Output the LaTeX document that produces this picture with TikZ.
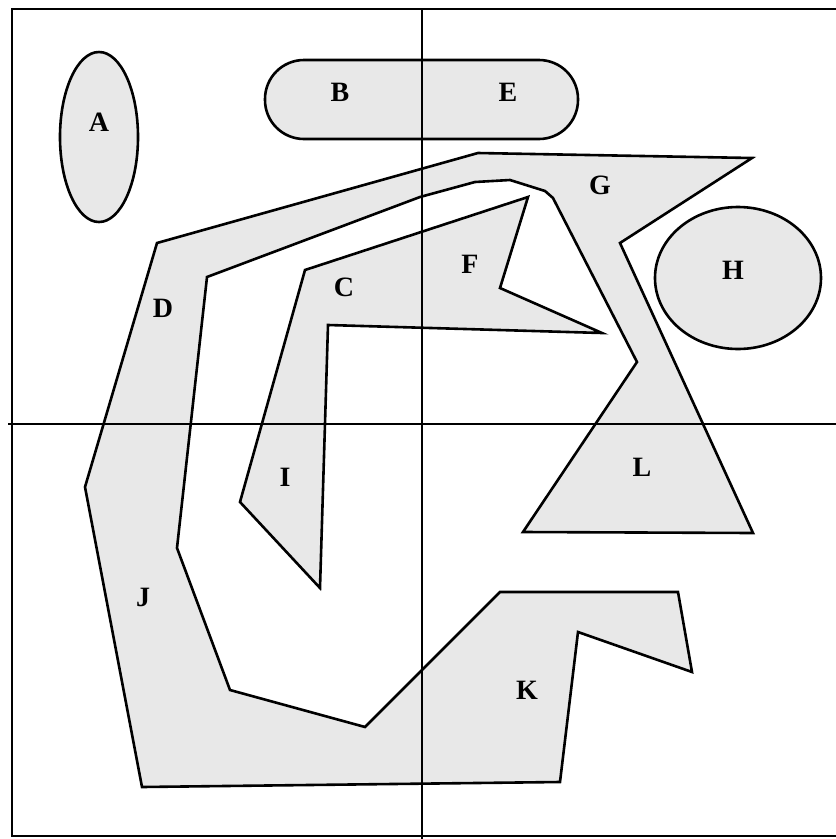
\documentclass[tikz,border=0pt]{standalone}
\usepackage{fontspec}
\setmainfont{Liberation Serif}
\usepackage{tikz}
\usetikzlibrary{positioning, calc}

\definecolor{regionfill}{gray}{0.91}

\begin{document}
\begin{tikzpicture}[x=1pt, y=-1pt,
    region/.style={draw=black, fill=regionfill, line width=2.6pt, line join=miter},
    grid line/.style={draw=black, line width=2.2pt},
    letter/.style={font=\fontsize{28}{28}\selectfont\bfseries, inner sep=0pt}]
        \useasboundingbox (0,0) rectangle (836,839);

        % Draw simple regions
        \draw[region] (99,137) ellipse [x radius=39, y radius=85];
        \draw[region, rounded corners=39pt] (265,60) rectangle (578,139);
        \draw[region] (738,278) ellipse [x radius=83, y radius=71];

        % Draw big band (D, G, L, J, K)
        \draw[region] (157,243) -- (478,153) -- (752,158) -- (620,243) -- (753,533)
            -- (523,532) -- (637,362) -- (553,198) -- (545,191) -- (510,180) -- (475,182)
            -- (420,197) -- (207,277) -- (177,548) -- (230,690) -- (365,727) -- (500,592)
            -- (678,592) -- (692,672) -- (578,632) -- (560,782) -- (142,787) -- (85,487) -- cycle;

        % Draw inner region (C, F, I)
        \draw[region] (305,270) -- (528,197) -- (500,288) -- (602,333) -- (328,325)
            -- (320,588) -- (240,502) -- cycle;

        % Draw frame and axes
        \draw[grid line] (836,9) -- (12,9) -- (12,836) -- (836,836);
        \draw[grid line] (422,9) -- (422,839);
        \draw[grid line] (8,424) -- (836,424);

        % Add labels
        \node[letter] (lblA) at (99,122) {A};
        \node[letter] (lblB) at (340,92) {B};
        \node[letter] (lblE) at (508,92) {E};
        \node[letter] (lblC) at (344,287) {C};
        \node[letter] (lblD) at (163,308) {D};
        \node[letter] (lblF) at (470,264) {F};
        \node[letter] (lblG) at (600,185) {G};
        \node[letter] (lblH) at (733,270) {H};
        \node[letter] (lblI) at (285,477) {I};
        \node[letter] (lblJ) at (143,597) {J};
        \node[letter] (lblK) at (527,690) {K};
        \node[letter] (lblL) at (642,467) {L};
    \end{tikzpicture}
\end{document}
